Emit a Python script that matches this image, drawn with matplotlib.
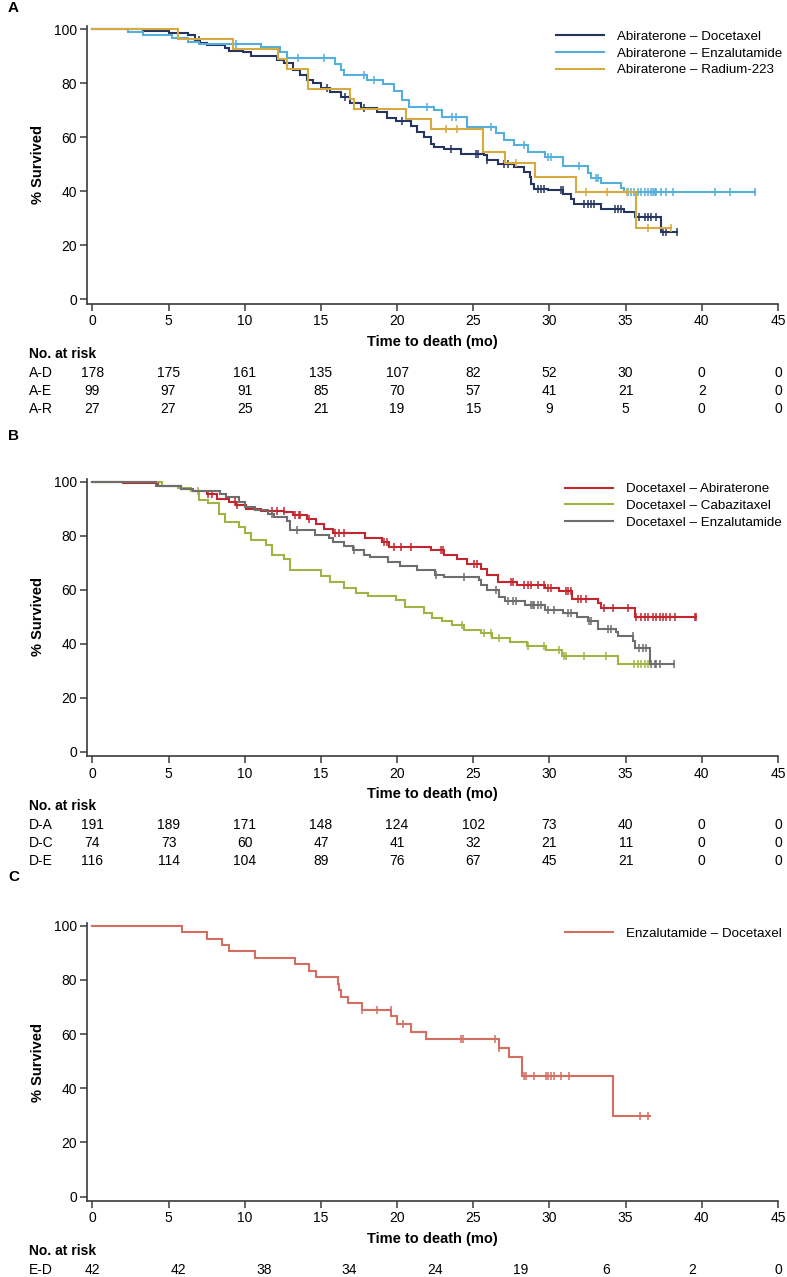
import numpy as np
import matplotlib
matplotlib.use("Agg")
import matplotlib.pyplot as plt
from matplotlib.transforms import blended_transform_factory

plt.rcParams['font.family'] = ['Liberation Sans', 'DejaVu Sans']

# ---------------- DATA ----------------
# Panel A
AD_t = [0, 3.3, 5.0, 6.3, 6.75, 7.07, 7.5, 8.7, 9.0, 9.9, 10.4, 12.1, 12.6, 13.2, 13.6, 14.1, 14.5,
        15.0, 15.6, 16.3, 16.9, 17.6, 18.7, 19.35, 19.9, 20.9, 21.3, 21.8, 22.2, 22.4, 23.1, 24.2,
        25.7, 25.9, 26.6, 27.7, 28.3, 28.7, 28.8, 29.0, 29.9, 30.9, 31.4, 31.6, 33.4, 34.9, 35.6, 37.3]
AD_s = [100, 99.4, 98.5, 97.8, 96.0, 94.7, 94.1, 92.9, 92.0, 91.4, 90.0, 88.5, 87.3, 84.8, 83.0, 81.2, 79.9,
        78.1, 76.8, 75.0, 72.5, 70.8, 69.2, 67.2, 65.9, 64.0, 61.8, 60.2, 57.6, 56.4, 55.8, 53.9,
        53.3, 51.4, 50.2, 49.0, 47.2, 45.3, 42.8, 41.0, 40.3, 39.1, 37.2, 35.4, 33.5, 32.3, 30.5, 24.9]
AD_end = 38.4
AD_cens = [7.0, 15.4, 16.6, 17.8, 20.34, 23.52, 25.16, 25.28, 25.93, 27.03, 27.25, 29.22, 29.44, 29.66,
           30.76, 30.87, 32.29, 32.51, 32.73, 32.95, 34.27, 34.48, 34.70, 35.91, 36.24, 36.46, 36.68,
           37.01, 37.45, 37.66, 38.4]

AE_t = [0, 2.36, 3.35, 5.2, 6.3, 7.0, 11.1, 12.3, 12.8, 15.9, 16.3, 16.5, 18.0, 19.1, 19.8, 20.3, 20.8,
        22.4, 22.96, 24.6, 26.5, 27.0, 27.7, 28.6, 29.7, 30.9, 32.5, 32.7, 33.4, 34.7, 34.9]
AE_s = [100, 99.0, 97.8, 96.6, 95.3, 94.5, 93.4, 91.6, 89.2, 87.1, 84.8, 83.0, 81.2, 79.6, 76.9, 73.8, 71.3,
        70.1, 67.6, 63.9, 61.4, 59.0, 57.1, 54.7, 52.8, 49.4, 46.7, 44.8, 43.0, 41.1, 39.9]
AE_end = 43.48
AE_cens = [9.4, 13.5, 15.2, 17.8, 18.5, 21.99, 23.63, 23.85, 26.15, 28.34, 29.88, 30.10, 31.96, 33.06,
           33.17, 35.14, 35.36, 35.58, 35.80, 36.02, 36.24, 36.46, 36.68, 36.79, 36.90, 37.01, 37.34,
           37.66, 38.10, 40.85, 41.83, 43.48]

AR_t = [0, 5.65, 9.26, 12.18, 12.8, 14.16, 16.9, 17.2, 20.56, 22.25, 25.65, 27.07, 29.07, 31.74, 35.69]
AR_s = [100, 96.3, 92.6, 88.9, 85.2, 77.8, 74.1, 70.4, 66.7, 63.0, 54.4, 50.3, 45.4, 39.7, 26.4]
AR_end = 38.0
AR_cens = [23.2, 23.96, 27.8, 32.4, 33.76, 35.1, 36.5, 38.0]

# Panel B
DA_t = [0, 2.03, 4.3, 5.8, 6.5, 7.5, 8.2, 9.0, 9.4, 10.1, 11.1, 12.6, 13.2, 14.1, 14.7, 15.2, 15.8, 17.9,
        19.0, 19.5, 22.2, 23.1, 23.95, 24.6, 25.5, 25.9, 26.6, 27.9, 29.7, 30.6, 31.5, 33.2, 33.4, 35.6]
DA_s = [100, 99.4, 98.3, 97.4, 96.7, 95.5, 93.6, 92.4, 91.2, 89.9, 89.3, 88.7, 87.8, 86.2, 84.4, 82.5, 80.9, 79.2,
        77.7, 76.0, 74.7, 72.9, 71.3, 69.6, 67.6, 65.5, 63.0, 61.8, 60.6, 59.4, 56.5, 55.0, 53.1, 50.1]
DA_end = 39.64
DA_cens = [7.62, 7.84, 9.38, 9.49, 11.79, 12.12, 12.56, 13.32, 13.54, 13.65, 14.2, 15.95, 16.17, 16.5,
           19.13, 19.35, 19.79, 20.23, 20.89, 22.89, 23.0, 25.05, 25.27, 27.47, 27.58, 28.34, 28.56,
           28.78, 29.22, 29.66, 29.88, 30.1, 31.09, 31.2, 31.42, 31.86, 32.07, 32.4, 33.61, 34.16,
           35.14, 35.69, 36.02, 36.24, 36.46, 36.79, 37.01, 37.23, 37.45, 37.66, 37.88, 38.21, 39.53, 39.64]

DC_t = [0, 4.55, 5.65, 6.5, 7.0, 7.6, 8.3, 8.7, 9.6, 10.0, 10.4, 11.4, 11.8, 12.6, 13.0, 15.0, 15.6, 16.5,
        17.3, 18.1, 19.9, 20.5, 21.8, 22.3, 22.97, 23.6, 24.4, 25.5, 26.2, 27.4, 28.5, 29.8, 30.8, 34.5]
DC_s = [100, 98.5, 97.6, 96.7, 93.3, 92.0, 88.1, 85.2, 83.1, 80.9, 78.4, 76.6, 73.0, 71.5, 67.4, 65.0, 63.0, 60.6,
        59.0, 57.7, 56.2, 53.6, 51.6, 49.4, 48.3, 46.8, 45.2, 44.0, 42.2, 40.7, 39.3, 37.9, 35.6, 32.7]
DC_end = 36.6
DC_cens = [6.96, 24.29, 25.71, 26.15, 26.7, 28.56, 29.66, 30.65, 30.98, 31.09, 32.29, 33.72,
           35.58, 35.8, 36.02, 36.24, 36.46]

DE_t = [0, 4.2, 5.8, 6.6, 8.4, 8.8, 9.6, 10.0, 10.7, 11.5, 11.9, 12.8, 13.0, 14.6, 15.5, 15.8, 16.5, 17.1,
        17.8, 18.2, 19.4, 20.2, 21.3, 22.5, 23.1, 25.4, 25.5, 25.9, 26.7, 27.1, 28.4, 29.7, 30.9, 31.8,
        32.5, 33.2, 34.4, 34.5, 35.5, 35.6, 36.6]
DE_s = [100, 98.5, 97.4, 96.6, 95.6, 94.4, 92.5, 90.8, 89.5, 88.1, 87.1, 85.3, 82.2, 80.4, 79.1, 77.7, 76.3, 74.8,
        73.0, 72.0, 70.4, 68.8, 67.3, 65.5, 64.6, 63.6, 61.8, 59.9, 57.4, 55.9, 54.5, 52.6, 51.6, 50.1,
        48.3, 45.5, 44.3, 42.8, 41.0, 38.5, 32.7]
DE_end = 38.2
DE_cens = [11.79, 13.43, 17.16, 22.53, 24.4, 26.48, 27.25, 27.58, 27.8, 28.78, 28.89, 29.0, 29.22, 29.44,
           29.88, 30.32, 31.2, 31.42, 32.62, 32.73, 33.83, 34.05, 35.47, 35.91, 36.13, 36.35, 36.68,
           36.9, 37.01, 37.23, 38.2]

# Panel C
ED_t = [0, 5.87, 7.5, 8.5, 9.0, 10.7, 13.3, 14.2, 14.7, 16.1, 16.2, 16.3, 16.8, 17.7, 19.6, 20.0, 20.9,
        21.9, 26.7, 27.36, 28.2, 34.2]
ED_s = [100, 97.6, 95.2, 92.9, 90.5, 88.1, 85.7, 83.3, 81.0, 78.6, 76.2, 73.8, 71.4, 69.0, 66.5, 63.7, 60.9,
        58.2, 54.8, 51.7, 44.6, 29.8]
ED_end = 36.6
ED_cens = [17.72, 18.7, 19.57, 20.4, 24.2, 24.35, 26.41, 26.7, 28.34, 28.45, 28.99, 29.77, 29.88,
           30.1, 30.32, 30.76, 31.3, 35.97, 36.45]

# Risk tables
risk_ticks = [0, 5, 10, 15, 20, 25, 30, 35, 40, 45]
AD_risk = [178, 175, 161, 135, 107, 82, 52, 30, 0, 0]
AE_risk = [99, 97, 91, 85, 70, 57, 41, 21, 2, 0]
AR_risk = [27, 27, 25, 21, 19, 15, 9, 5, 0, 0]
DA_risk = [191, 189, 171, 148, 124, 102, 73, 40, 0, 0]
DC_risk = [74, 73, 60, 47, 41, 32, 21, 11, 0, 0]
DE_risk = [116, 114, 104, 89, 76, 67, 45, 21, 0, 0]
ED_risk = [42, 42, 38, 34, 24, 19, 6, 2, 0]

labels_A = ["Abiraterone – Docetaxel", "Abiraterone – Enzalutamide", "Abiraterone – Radium-223"]
labels_B = ["Docetaxel – Abiraterone", "Docetaxel – Cabazitaxel", "Docetaxel – Enzalutamide"]
labels_C = ["Enzalutamide – Docetaxel"]
risk_labels_A = ["A-D", "A-E", "A-R"]
risk_labels_B = ["D-A", "D-C", "D-E"]
risk_labels_C = ["E-D"]

# ---------------- STYLE ----------------
C_NAVY = "#26355f"
C_LBLUE = "#55afdc"
C_GOLD = "#d6aa3e"
C_RED = "#c3262e"
C_GREEN = "#a0b444"
C_GRAY = "#6e6e6e"
C_SALMON = "#d36e60"

W, H = 787, 1277
fig = plt.figure(figsize=(W / 100, H / 100), dpi=100)

YLO, YHI = -1.6, 101
XLO, XHI = -0.33, 45


def fy(py):
    return 1 - py / H


def make_axes(top_px, bottom_px):
    left, right = 87.3, 778
    ax = fig.add_axes([left / W, fy(bottom_px), (right - left) / W, (bottom_px - top_px) / H])
    ax.set_xlim(XLO, XHI)
    ax.set_ylim(YLO, YHI)
    for s in ["top", "right"]:
        ax.spines[s].set_visible(False)
    for s in ["left", "bottom"]:
        ax.spines[s].set_linewidth(1.2)
        ax.spines[s].set_color("#3a3a3a")
    ax.set_xticks(range(0, 46, 5))
    ax.set_yticks(range(0, 101, 20))
    ax.tick_params(axis="both", length=5, width=1.1, color="#3a3a3a", labelsize=10, pad=2.5)
    return ax


def km(ax, t, s, end, cens, color, label):
    tt = list(t) + [end]
    ss = list(s) + [s[-1]]
    ax.step(tt, ss, where="post", color=color, lw=1.5, label=label, solid_joinstyle="miter")
    ta = np.asarray(t)
    sa = np.asarray(s)
    cy = [sa[np.searchsorted(ta, c, side="right") - 1] for c in cens]
    ax.plot(cens, cy, ls="none", marker="|", ms=5.5, mew=1.1, color=color)


def legend(ax, top_px, left_px):
    leg = ax.legend(loc="upper left", bbox_to_anchor=(left_px / W, fy(top_px)),
                    bbox_transform=fig.transFigure, frameon=False, fontsize=9.6,
                    borderpad=0, borderaxespad=0, handlelength=3.6, handletextpad=0.95,
                    labelspacing=0.33)
    return leg


def risk_table(ax, axis_px, names, rows, xs):
    tr = blended_transform_factory(ax.transData, fig.transFigure)
    ax.text(0.5, fy(axis_px + 38), "Time to death (mo)",
            transform=blended_transform_factory(ax.transAxes, fig.transFigure),
            ha="center", va="center", fontsize=10.5, fontweight="bold")
    fig.text(29 / W, fy(axis_px + 50), "No. at risk", ha="left", va="center", fontsize=10, fontweight="bold")
    for i, (nm, row) in enumerate(zip(names, rows)):
        yy = fy(axis_px + 69 + 18 * i)
        fig.text(29 / W, yy, nm, ha="left", va="center", fontsize=10)
        for x, v in zip(xs, row):
            ax.text(x, yy, str(v), transform=tr, ha="center", va="center", fontsize=10)


def panel_labels(ax, letter, y_px, center_px):
    fig.text(8 / W, fy(y_px), letter, ha="left", va="center", fontsize=11, fontweight="bold")
    fig.text(38 / W, fy(center_px), "% Survived", rotation=90, ha="center", va="center",
             fontsize=10.5, fontweight="bold")


# Panel A
axA = make_axes(26.3, 303.8)
km(axA, AD_t, AD_s, AD_end, AD_cens, C_NAVY, labels_A[0])
km(axA, AE_t, AE_s, AE_end, AE_cens, C_LBLUE, labels_A[1])
km(axA, AR_t, AR_s, AR_end, AR_cens, C_GOLD, labels_A[2])
legend(axA, 30.5, 556)
risk_table(axA, 303.8, risk_labels_A, [AD_risk, AE_risk, AR_risk], risk_ticks)
panel_labels(axA, "A", 8, 165)

# Panel B
axB = make_axes(479.0, 756.3)
km(axB, DA_t, DA_s, DA_end, DA_cens, C_RED, labels_B[0])
km(axB, DC_t, DC_s, DC_end, DC_cens, C_GREEN, labels_B[1])
km(axB, DE_t, DE_s, DE_end, DE_cens, C_GRAY, labels_B[2])
legend(axB, 483.0, 565)
risk_table(axB, 756.3, risk_labels_B, [DA_risk, DC_risk, DE_risk], risk_ticks)
panel_labels(axB, "B", 436, 617)

# Panel C
axC = make_axes(923.0, 1201.0)
km(axC, ED_t, ED_s, ED_end, ED_cens, C_SALMON, labels_C[0])
legend(axC, 927.5, 565)
xs_C = [i * 45 / (len(ED_risk) - 1) for i in range(len(ED_risk))]
risk_table(axC, 1201.0, risk_labels_C, [ED_risk], xs_C)
panel_labels(axC, "C", 877, 1062)

fig.savefig("out.png", dpi=100)
